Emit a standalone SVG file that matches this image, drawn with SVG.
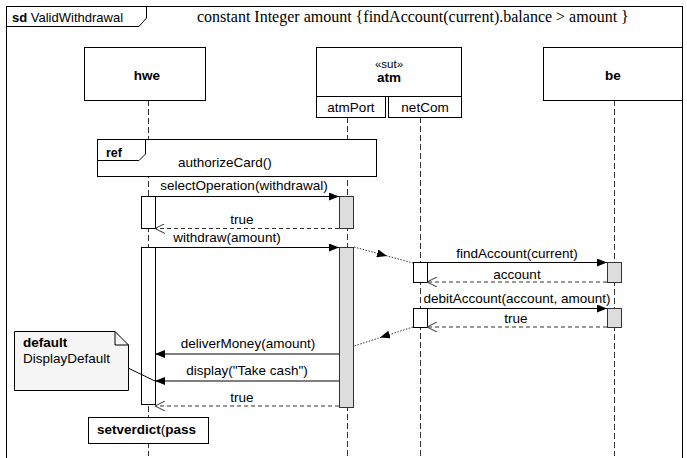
<svg xmlns="http://www.w3.org/2000/svg" width="687" height="458" viewBox="0 0 687 458">
<defs>
<style>
.t{font-family:"Liberation Sans",Arial,sans-serif;font-size:13.5px;fill:#000}
.b{font-weight:bold}
.box{fill:#fff;stroke:#000;stroke-width:1}
.ll{stroke:#333;stroke-width:1;stroke-dasharray:6,3;fill:none}
.msg{stroke:#000;stroke-width:1;fill:none}
.ret{stroke:#333;stroke-width:1;stroke-dasharray:4,3;fill:none}
.dot{stroke:#333;stroke-width:1;stroke-dasharray:1.5,1.5;fill:none}
.act{fill:#fff;stroke:#000;stroke-width:1}
.actg{fill:#ddd;stroke:#333;stroke-width:1}
</style>
<marker id="fill" markerWidth="10" markerHeight="8" refX="10" refY="4" orient="auto" markerUnits="userSpaceOnUse"><path d="M0,0 L10,4 L0,8 Z" fill="#000"/></marker>
<marker id="open" markerWidth="10" markerHeight="10" refX="10" refY="5" orient="auto" markerUnits="userSpaceOnUse"><path d="M0,0 L10,5 L0,10" fill="none" stroke="#333" stroke-width="1"/></marker>
</defs>
<rect width="687" height="458" fill="#fff"/>
<g id="frame">
<rect x="6.5" y="6.5" width="676" height="470" fill="none" stroke="#000"/>
<path d="M6.5,26.5 H139 L146.5,18 V6.5" fill="none" stroke="#000"/>
<text x="12" y="22" class="t" style="font-size:13px"><tspan class="b">sd</tspan>  ValidWithdrawal</text>
<text x="197" y="22" style="font-family:'Liberation Serif','Times New Roman',serif;font-size:16px">constant Integer amount {findAccount(current).balance &gt; amount }</text>
</g>
<g id="lifelines">
<line class="ll" x1="148.5" y1="100" x2="148.5" y2="456"/>
<line class="ll" x1="347.5" y1="117" x2="347.5" y2="456"/>
<line class="ll" x1="420.5" y1="117" x2="420.5" y2="456"/>
<line class="ll" x1="614.5" y1="100" x2="614.5" y2="456"/>
</g>
<g id="hwe">
<rect class="box" x="84.5" y="47.5" width="121" height="53"/>
<text x="147" y="80" class="t b" text-anchor="middle">hwe</text>
</g>
<g id="atm">
<rect class="box" x="316.5" y="47.5" width="145" height="49"/>
<text x="389" y="68" class="t" text-anchor="middle" style="font-size:11.5px">«sut»</text>
<text x="389" y="82" class="t b" text-anchor="middle">atm</text>
<rect class="box" x="316.5" y="96.5" width="69" height="21"/>
<text x="351" y="112" class="t" text-anchor="middle">atmPort</text>
<rect class="box" x="388.5" y="96.5" width="73" height="21"/>
<text x="425" y="112" class="t" text-anchor="middle">netCom</text>
</g>
<g id="be">
<rect class="box" x="543.5" y="47.5" width="139" height="53"/>
<text x="613" y="80" class="t b" text-anchor="middle">be</text>
</g>
<g id="ref">
<rect class="box" x="97.5" y="139.5" width="279" height="37"/>
<path d="M97.5,160.5 H139 L145.5,154 V139.5" fill="none" stroke="#000"/>
<text x="106" y="157" class="t b" style="font-size:12.5px">ref</text>
<text x="178" y="167" class="t">authorizeCard()</text>
</g>
<g id="activations">
<rect class="act" x="141.5" y="196.5" width="14" height="32"/>
<rect class="actg" x="339.5" y="196.5" width="14" height="32"/>
<rect class="act" x="141.5" y="247.5" width="14" height="157"/>
<rect class="actg" x="339.5" y="247.5" width="14" height="160"/>
<rect class="act" x="413.5" y="262.5" width="14" height="20"/>
<rect class="actg" x="607.5" y="262.5" width="14" height="20"/>
<rect class="act" x="413.5" y="308.5" width="14" height="19"/>
<rect class="actg" x="607.5" y="308.5" width="14" height="19"/>
</g>
<g id="note">
<path d="M14.5,331.5 H115 L128.5,345 V390.5 H14.5 Z" fill="#f5f5f5" stroke="#000"/>
<path d="M115,331.5 V345 H128.5" fill="none" stroke="#000"/>
<text x="23" y="347" class="t b">default</text>
<text x="23" y="363" class="t">DisplayDefault</text>
</g>
<g id="setverdict">
<rect class="box" x="88.5" y="417.5" width="120" height="26"/>
<text x="97" y="434" class="t b">setverdict<tspan style="font-weight:normal">(</tspan>pass</text>
</g>
<g id="connectors">
<line class="msg" x1="155" y1="196.5" x2="339" y2="196.5" marker-end="url(#fill)"/>
<text x="244" y="190" class="t" text-anchor="middle">selectOperation(withdrawal)</text>
<line class="ret" x1="339" y1="228.5" x2="155" y2="228.5" marker-end="url(#open)"/>
<text x="242" y="224" class="t" text-anchor="middle">true</text>
<line class="msg" x1="155" y1="247.5" x2="339" y2="247.5" marker-end="url(#fill)"/>
<text x="227" y="242" class="t" text-anchor="middle">withdraw(amount)</text>
<line class="dot" x1="354" y1="247" x2="413" y2="263"/>
<line x1="368" y1="250.8" x2="387" y2="256" stroke="none" marker-end="url(#fill)"/>
<line class="msg" x1="427" y1="262.5" x2="607" y2="262.5" marker-end="url(#fill)"/>
<text x="517" y="258" class="t" text-anchor="middle">findAccount(current)</text>
<line class="ret" x1="607" y1="282" x2="427" y2="282" marker-end="url(#open)"/>
<text x="517" y="279" class="t" text-anchor="middle">account</text>
<line class="msg" x1="427" y1="308.5" x2="607" y2="308.5" marker-end="url(#fill)"/>
<text x="517" y="303" class="t" text-anchor="middle">debitAccount(account, amount)</text>
<line class="ret" x1="607" y1="327" x2="427" y2="327" marker-end="url(#open)"/>
<text x="516" y="323" class="t" text-anchor="middle">true</text>
<line class="dot" x1="413" y1="327" x2="354" y2="346"/>
<line x1="398" y1="331.8" x2="380" y2="337.6" stroke="none" marker-end="url(#fill)"/>
<line class="msg" x1="339" y1="354" x2="155" y2="354" marker-end="url(#fill)"/>
<text x="248" y="348" class="t" text-anchor="middle">deliverMoney(amount)</text>
<line class="msg" x1="339" y1="381" x2="155" y2="381" marker-end="url(#fill)"/>
<text x="247" y="375" class="t" text-anchor="middle">display("Take cash")</text>
<line class="ret" x1="339" y1="406" x2="155" y2="406" marker-end="url(#open)"/>
<text x="242" y="402" class="t" text-anchor="middle">true</text>
<line class="msg" x1="128" y1="368" x2="155" y2="381"/>
</g>
</svg>
